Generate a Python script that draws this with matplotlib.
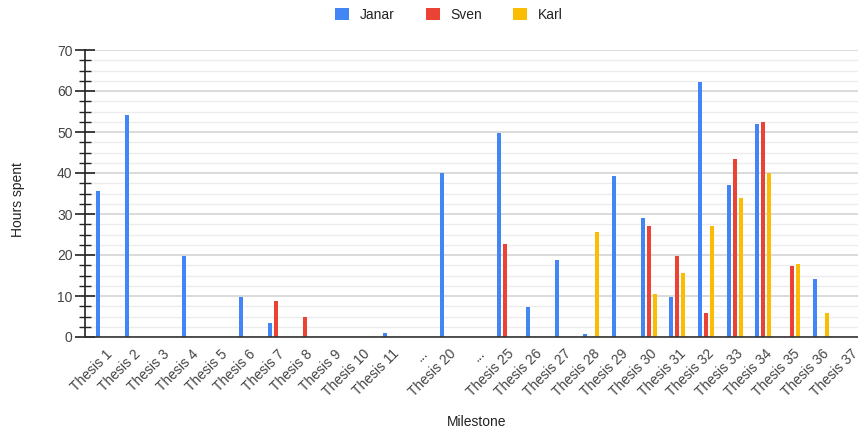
import numpy as np
import matplotlib
matplotlib.use("Agg")
import matplotlib.pyplot as plt
from matplotlib.patches import Patch
from matplotlib.ticker import MultipleLocator

plt.rcParams['font.family'] = ['Liberation Sans', 'DejaVu Sans']

milestones = ["Thesis 1", "Thesis 2", "Thesis 3", "Thesis 4", "Thesis 5", "Thesis 6",
              "Thesis 7", "Thesis 8", "Thesis 9", "Thesis 10", "Thesis 11", "...",
              "Thesis 20", "...", "Thesis 25", "Thesis 26", "Thesis 27", "Thesis 28",
              "Thesis 29", "Thesis 30", "Thesis 31", "Thesis 32", "Thesis 33",
              "Thesis 34", "Thesis 35", "Thesis 36", "Thesis 37"]

janar = [35.5, 54.2, 0, 19.7, 0, 9.8, 3.3, 0, 0, 0, 1.0, 0,
         40.0, 0, 49.8, 7.4, 18.9, 0.8, 39.2, 29.0, 9.8, 62.3, 37.0,
         52.0, 0, 14.2, 0]
sven = [0, 0, 0, 0, 0, 0, 8.8, 4.8, 0, 0, 0, 0,
        0, 0, 22.8, 0, 0, 0, 0, 27.0, 19.8, 5.9, 43.5,
        52.4, 17.4, 0, 0]
karl = [0, 0, 0, 0, 0, 0, 0, 0, 0, 0, 0, 0,
        0, 0, 0, 0, 0, 25.7, 0, 10.6, 15.7, 27.0, 34.0,
        40.0, 17.7, 5.9, 0]

series = [("Janar", janar, "#4285F4"), ("Sven", sven, "#EA4335"), ("Karl", karl, "#FBBC04")]

W, H = 858, 433
fig = plt.figure(figsize=(W / 100, H / 100), dpi=100)
ax = fig.add_axes([85 / W, (H - 337) / H, (W - 85) / W, (337 - 50) / H])

x = np.arange(len(milestones))
slot = 0.21
bw = 0.14
for i, (name, vals, col) in enumerate(series):
    ax.bar(x + (i - 1) * slot, vals, width=bw, color=col, zorder=3, linewidth=0)

ax.set_ylim(0, 70)
ax.set_xlim(-0.67, 26.3)
ax.yaxis.set_major_locator(MultipleLocator(10))
ax.yaxis.set_minor_locator(MultipleLocator(2.5))
ax.grid(axis='y', which='major', color='#d4d4d4', linewidth=1.2, zorder=0)
ax.grid(axis='y', which='minor', color='#ececec', linewidth=1.0, zorder=0)
ax.set_axisbelow(True)

for s in ['top', 'right']:
    ax.spines[s].set_visible(False)
ax.spines['left'].set_color('#222222')
ax.spines['left'].set_linewidth(1.2)
ax.spines['bottom'].set_color('#333333')
ax.spines['bottom'].set_linewidth(1.2)
ax.spines['bottom'].set_zorder(4)

ax.tick_params(axis='y', which='major', direction='inout', length=14, width=1.2,
               color='#222222', labelsize=10, labelcolor='#444444', pad=2)
ax.tick_params(axis='y', which='minor', direction='inout', length=9, width=1.0,
               color='#222222')
ax.tick_params(axis='x', length=0, labelsize=10, labelcolor='#444444', pad=7)

ax.set_xticks(x)
ax.set_xticklabels(milestones, rotation=45, ha='right', va='top', rotation_mode='anchor')
for lab in ax.get_xticklabels():
    lab.set_transform(lab.get_transform() + matplotlib.transforms.ScaledTranslation(1 / 100, 0, fig.dpi_scale_trans))

fig.text(18 / W, 1 - 200 / H, "Hours spent", rotation=90, ha='center', va='center',
         fontsize=10, color='#222222')
fig.text(477 / W, 1 - 422 / H, "Milestone", ha='center', va='center',
         fontsize=10, color='#222222')

handles = [Patch(facecolor=c, edgecolor='none', label=n) for n, _, c in series]
fig.legend(handles=handles, loc='center', bbox_to_anchor=(449 / W, 1 - 15 / H), ncol=3,
           frameon=False, handlelength=1.0, handleheight=1.0, handletextpad=0.8,
           columnspacing=2.2, fontsize=10, labelcolor='#222222')

fig.savefig("out.png", dpi=100)
